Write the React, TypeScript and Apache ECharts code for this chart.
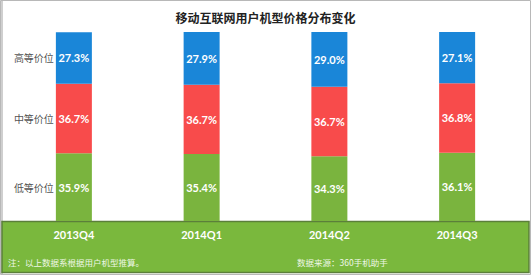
import React, { useEffect, useRef } from "react";
import * as echarts from "echarts";

const categories = ["2013Q4", "2014Q1", "2014Q2", "2014Q3"];
const lowTier = [35.9, 35.4, 34.3, 36.1];
const midTier = [36.7, 36.7, 36.7, 36.8];
const highTier = [27.3, 27.9, 29.0, 27.1];
const tierNames = ["低等价位", "中等价位", "高等价位"];
const title = "移动互联网用户机型价格分布变化";
const noteLeft = "注：以上数据系根据用户机型推算。";
const noteRight = "数据来源：360手机助手";

export default function App() {
  const ref = useRef<HTMLDivElement>(null);
  useEffect(() => {
    const chart = echarts.init(ref.current!, null, { renderer: "svg" });
    const valueLabel = {
      show: true,
      position: "inside",
      color: "#fff",
      fontWeight: "bold",
      fontSize: 11,
      fontFamily: "Lato, sans-serif",
      formatter: (p: any) => p.value.toFixed(1) + "%",
    };
    const mids = [
      lowTier[0] / 2,
      lowTier[0] + midTier[0] / 2,
      lowTier[0] + midTier[0] + highTier[0] / 2,
    ];
    chart.setOption({
      animation: false,
      backgroundColor: "#fff",
      title: {
        text: title,
        left: "center",
        top: 6,
        textStyle: { fontSize: 12, fontWeight: "bold", color: "#222", fontFamily: "Noto Sans CJK SC" },
      },
      grid: { left: 10, right: 10, top: 32, bottom: 54 },
      xAxis: {
        type: "category",
        data: categories,
        axisLine: { show: false },
        axisTick: { show: false },
        axisLabel: {
          color: "#fff",
          fontWeight: "bold",
          fontSize: 11,
          fontFamily: "Lato, sans-serif",
          margin: 8,
        },
      },
      yAxis: {
        type: "value",
        min: 0,
        max: 100,
        show: false,
        splitLine: { show: false },
      },
      graphic: [
        {
          type: "rect",
          z: -10,
          shape: { x: 0.5, y: 0.5, width: 530, height: 274 },
          style: { fill: "none", stroke: "#b8b8b8", lineWidth: 1 },
        },
        {
          type: "rect",
          z: -10,
          shape: { x: 1.5, y: 1, width: 1, height: 273 },
          style: { fill: "#a0a0a0" },
        },
        {
          type: "rect",
          z: -10,
          shape: { x: 2, y: 221.5, width: 527, height: 51 },
          style: { fill: "#7ab83d", stroke: "#5b7f3a", lineWidth: 1.5 },
        },
        {
          type: "text",
          x: 8,
          y: 257.5,
          style: { text: noteLeft, fill: "#eef7e6", fontSize: 8.5, fontFamily: "Noto Sans CJK SC" },
        },
        {
          type: "text",
          x: 297,
          y: 257.5,
          style: { text: noteRight, fill: "#eef7e6", fontSize: 8.5, fontFamily: "Noto Sans CJK SC" },
        },
      ],
      series: [
        {
          name: tierNames[0],
          type: "bar",
          stack: "t",
          barWidth: 36,
          data: lowTier,
          itemStyle: { color: "#7ab43e" },
          label: valueLabel,
        },
        {
          name: tierNames[1],
          type: "bar",
          stack: "t",
          data: midTier,
          itemStyle: { color: "#f84b4b" },
          label: valueLabel,
        },
        {
          name: tierNames[2],
          type: "bar",
          stack: "t",
          data: highTier,
          itemStyle: { color: "#1a86d8" },
          label: valueLabel,
        },
        {
          type: "scatter",
          symbolSize: 0,
          silent: true,
          data: mids.map((m, i) => ({ value: [categories[0], m], name: tierNames[i] })),
          label: {
            show: true,
            position: "left",
            distance: 20,
            color: "#222",
            fontSize: 10,
            fontFamily: "Noto Sans CJK SC",
            formatter: (p: any) => p.name,
          },
        },
      ],
    });
    return () => chart.dispose();
  }, []);
  return (
    <div
      ref={ref}
      style={{ position: "fixed", left: 0, top: 0, width: 531, height: 275 }}
    />
  );
}
